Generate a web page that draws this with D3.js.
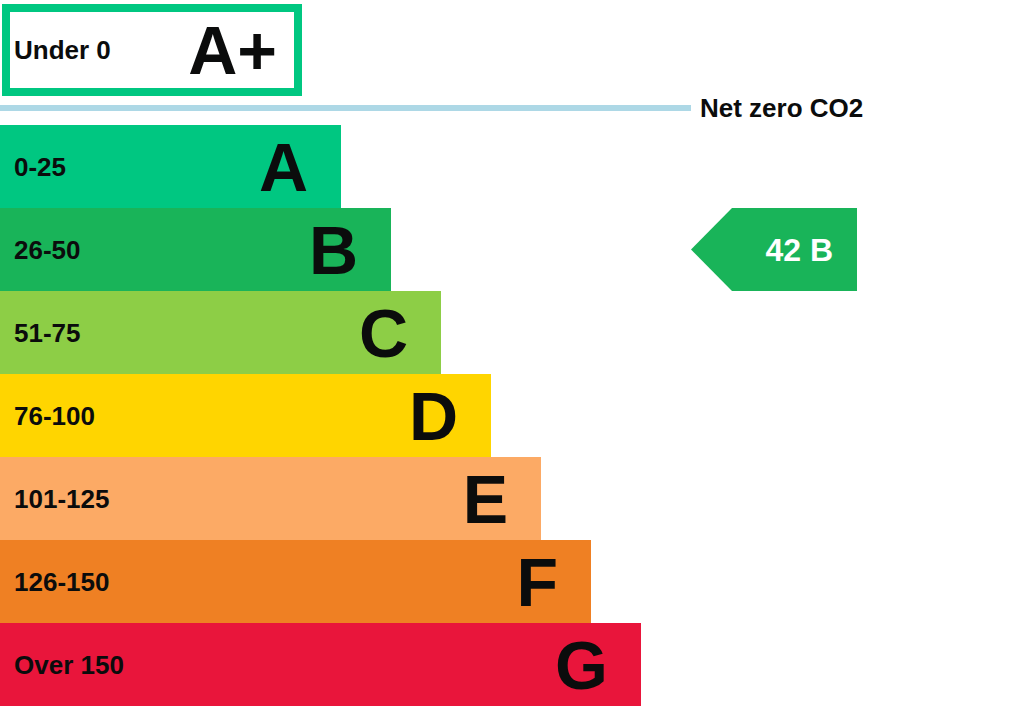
<!DOCTYPE html>
<html>
<head>
<meta charset="utf-8">
<script src="https://cdn.jsdelivr.net/npm/d3@7"></script>
<style>
  html, body { margin: 0; padding: 0; background: #fff; }
  svg { display: block; font-family: "Liberation Sans", Arial, Helvetica, sans-serif; font-weight: bold; }
</style>
</head>
<body>
<svg id="chart"></svg>
<script>
// bands of the rating, top to bottom
const bands = ["A", "B", "C", "D", "E", "F", "G"];
const ranges = ["0-25", "26-50", "51-75", "76-100", "101-125", "126-150", "Over 150"];
const upperScores = [25, 50, 75, 100, 125, 150, 175];
const bandColors = ["#00c781", "#19b459", "#8dce46", "#ffd500", "#fcaa65", "#ef8023", "#e9153b"];

// the extra band above net zero
const topBand = "A+";
const topRange = "Under 0";
const netZeroLabel = "Net zero CO2";

// current rating
const currentScore = 42;
const currentBand = "B";

const width = 1024;
const height = 709;

const svg = d3.select("#chart")
  .attr("width", width)
  .attr("height", height);

const y = d3.scaleBand().domain(bands).range([125, 706]).padding(0);
const x = d3.scaleLinear().domain([25, 175]).range([341, 641]); // bar length by band top score
const color = d3.scaleOrdinal().domain(bands).range(bandColors);

const rangeFont = 26;
const letterFont = 68;

// A+ box
svg.append("rect")
  .attr("x", 6).attr("y", 8)
  .attr("width", 292).attr("height", 84)
  .attr("fill", "#fff")
  .attr("stroke", color("A"))
  .attr("stroke-width", 8);

svg.append("text")
  .attr("x", 14).attr("y", 50 + rangeFont * 0.358)
  .attr("font-size", rangeFont)
  .attr("fill", "#0b0c0c")
  .text(topRange);

svg.append("text")
  .attr("x", 277).attr("y", 50 + letterFont * 0.358)
  .attr("text-anchor", "end")
  .attr("font-size", letterFont)
  .attr("fill", "#0b0c0c")
  .text(topBand);

// net zero line
svg.append("line")
  .attr("x1", 0).attr("x2", 691)
  .attr("y1", 108).attr("y2", 108)
  .attr("stroke", "#add8e6")
  .attr("stroke-width", 6);

svg.append("text")
  .attr("x", 700).attr("y", 108 + rangeFont * 0.358)
  .attr("font-size", rangeFont)
  .attr("fill", "#0b0c0c")
  .text(netZeroLabel);

// bars
const rows = svg.selectAll("g.band")
  .data(bands)
  .enter()
  .append("g")
  .attr("class", "band")
  .attr("transform", d => `translate(0,${y(d)})`);

rows.append("rect")
  .attr("x", 0)
  .attr("width", (d, i) => x(upperScores[i]))
  .attr("height", y.bandwidth())
  .attr("fill", d => color(d));

rows.append("text")
  .attr("x", 14)
  .attr("y", y.bandwidth() / 2 + rangeFont * 0.358)
  .attr("font-size", rangeFont)
  .attr("fill", "#0b0c0c")
  .text((d, i) => ranges[i]);

rows.append("text")
  .attr("x", (d, i) => x(upperScores[i]) - 33)
  .attr("y", y.bandwidth() / 2 + letterFont * 0.358)
  .attr("text-anchor", "end")
  .attr("font-size", letterFont)
  .attr("fill", "#0b0c0c")
  .text(d => d);

// current rating pointer
const py = y(currentBand);
const ph = y.bandwidth();
const left = 691, shoulder = 732, right = 857;

svg.append("path")
  .attr("d", d3.line()([
    [left, py + ph / 2],
    [shoulder, py],
    [right, py],
    [right, py + ph],
    [shoulder, py + ph]
  ]) + "Z")
  .attr("fill", color(currentBand));

svg.append("text")
  .attr("x", right - 24)
  .attr("y", py + ph / 2 + 32 * 0.358)
  .attr("text-anchor", "end")
  .attr("font-size", 32)
  .attr("fill", "#fff")
  .text(`${currentScore} ${currentBand}`);
</script>
</body>
</html>
